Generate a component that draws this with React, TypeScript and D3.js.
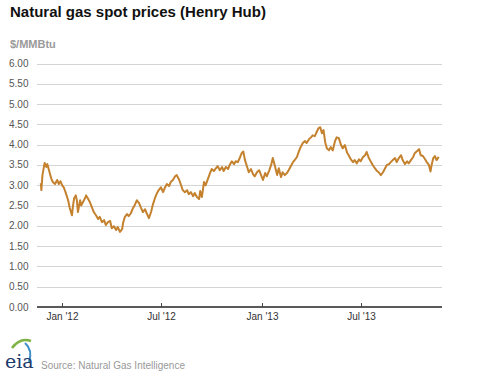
import React from "react";
import * as d3 from "d3";

const title = "Natural gas spot prices (Henry Hub)";
const unitLabel = "$/MMBtu";
const sourceLabel = "Source: Natural Gas Intelligence";
const yTicks = [0, 0.5, 1, 1.5, 2, 2.5, 3, 3.5, 4, 4.5, 5, 5.5, 6];
const xTickDates = ["2012-01-01", "2012-07-01", "2013-01-01", "2013-07-01"];
const xTickLabels = ["Jan '12", "Jul '12", "Jan '13", "Jul '13"];

const dates = [
  "2011-11-23","2011-11-24","2011-11-26","2011-11-30","2011-12-03","2011-12-05","2011-12-08","2011-12-12","2011-12-15","2011-12-19",
  "2011-12-23","2011-12-26","2011-12-29","2012-01-01","2012-01-04","2012-01-08","2012-01-12","2012-01-15","2012-01-19","2012-01-21",
  "2012-01-23","2012-01-26","2012-01-28","2012-01-30","2012-02-03","2012-02-05","2012-02-08","2012-02-12","2012-02-14","2012-02-17",
  "2012-02-21","2012-02-25","2012-02-28","2012-03-03","2012-03-07","2012-03-10","2012-03-14","2012-03-18","2012-03-21","2012-03-25",
  "2012-03-29","2012-04-01","2012-04-05","2012-04-09","2012-04-12","2012-04-16","2012-04-20","2012-04-22","2012-04-25","2012-04-29",
  "2012-05-02","2012-05-06","2012-05-10","2012-05-13","2012-05-17","2012-05-21","2012-05-24","2012-05-28","2012-06-01","2012-06-04",
  "2012-06-08","2012-06-12","2012-06-15","2012-06-19","2012-06-23","2012-06-26","2012-06-30","2012-07-04","2012-07-07","2012-07-11",
  "2012-07-15","2012-07-18","2012-07-22","2012-07-26","2012-07-29","2012-08-02","2012-08-06","2012-08-09","2012-08-13","2012-08-17",
  "2012-08-20","2012-08-24","2012-08-28","2012-08-31","2012-09-04","2012-09-08","2012-09-10","2012-09-13","2012-09-17","2012-09-20",
  "2012-09-24","2012-09-28","2012-10-01","2012-10-05","2012-10-09","2012-10-12","2012-10-16","2012-10-20","2012-10-23","2012-10-27",
  "2012-10-31","2012-11-03","2012-11-07","2012-11-11","2012-11-14","2012-11-18","2012-11-22","2012-11-25","2012-11-28","2012-12-01",
  "2012-12-05","2012-12-08","2012-12-12","2012-12-16","2012-12-19","2012-12-23","2012-12-27","2012-12-30","2013-01-03","2013-01-07",
  "2013-01-10","2013-01-14","2013-01-18","2013-01-21","2013-01-25","2013-01-29","2013-02-01","2013-02-05","2013-02-08","2013-02-12",
  "2013-02-16","2013-02-19","2013-02-23","2013-02-27","2013-03-02","2013-03-06","2013-03-10","2013-03-13","2013-03-17","2013-03-21",
  "2013-03-24","2013-03-28","2013-04-01","2013-04-04","2013-04-08","2013-04-12","2013-04-15","2013-04-18","2013-04-21","2013-04-24",
  "2013-04-27","2013-04-30","2013-05-04","2013-05-07","2013-05-11","2013-05-15","2013-05-18","2013-05-22","2013-05-26","2013-05-29",
  "2013-06-02","2013-06-06","2013-06-09","2013-06-13","2013-06-17","2013-06-20","2013-06-24","2013-06-28","2013-07-01","2013-07-05",
  "2013-07-09","2013-07-12","2013-07-16","2013-07-20","2013-07-23","2013-07-27","2013-07-31","2013-08-03","2013-08-07","2013-08-11",
  "2013-08-14","2013-08-18","2013-08-22","2013-08-25","2013-08-29","2013-09-02","2013-09-05","2013-09-09","2013-09-13","2013-09-16",
  "2013-09-20","2013-09-24","2013-09-27","2013-10-01","2013-10-05","2013-10-08","2013-10-12","2013-10-16","2013-10-19","2013-10-23",
  "2013-10-27","2013-10-30","2013-11-03","2013-11-06","2013-11-08","2013-11-11","2013-11-14","2013-11-17","2013-11-21"
];

const prices = [
  3.05,2.88,3.25,3.55,3.45,3.52,3.37,3.17,3.08,3.03,
  3.13,3.03,3.10,3.00,2.95,2.80,2.63,2.44,2.26,2.50,
  2.68,2.75,2.63,2.34,2.63,2.50,2.58,2.68,2.75,2.68,
  2.58,2.44,2.34,2.26,2.17,2.22,2.09,2.14,2.02,2.09,
  2.12,1.94,1.99,1.90,1.97,1.85,1.92,2.09,2.22,2.29,
  2.24,2.31,2.44,2.51,2.63,2.56,2.46,2.34,2.41,2.31,
  2.19,2.34,2.51,2.68,2.81,2.88,2.95,2.83,2.93,3.03,
  2.98,3.08,3.13,3.22,3.25,3.15,3.00,2.88,2.83,2.88,
  2.78,2.83,2.73,2.81,2.71,2.66,2.86,2.71,3.08,3.00,
  3.15,3.30,3.40,3.35,3.42,3.47,3.37,3.45,3.35,3.45,
  3.40,3.50,3.59,3.52,3.59,3.57,3.69,3.79,3.83,3.62,
  3.45,3.32,3.40,3.27,3.22,3.32,3.37,3.27,3.13,3.30,
  3.22,3.35,3.50,3.67,3.47,3.25,3.42,3.20,3.32,3.25,
  3.30,3.37,3.47,3.57,3.62,3.69,3.84,3.94,4.04,4.09,
  4.04,4.13,4.18,4.23,4.21,4.33,4.41,4.43,4.28,4.36,
  4.06,3.91,3.86,3.94,3.86,4.09,4.18,4.16,3.99,3.91,
  3.99,3.81,3.74,3.64,3.57,3.62,3.54,3.64,3.59,3.69,
  3.74,3.82,3.67,3.57,3.50,3.42,3.35,3.32,3.25,3.32,
  3.40,3.50,3.52,3.57,3.62,3.67,3.57,3.67,3.74,3.62,
  3.52,3.59,3.54,3.62,3.69,3.79,3.84,3.89,3.74,3.72,
  3.64,3.57,3.50,3.34,3.50,3.67,3.72,3.62,3.70
];

const parse = d3.timeParse("%Y-%m-%d");

export default function App() {
  const W = 480, H = 374;
  const left = 37, right = 442, top = 63.5, bottom = 307;
  const x = d3.scaleTime()
    .domain([parse("2011-11-16")!, parse("2013-11-27")!])
    .range([left, right]);
  const y = d3.scaleLinear().domain([0, 6]).range([bottom, top]);
  const pts = dates.map((d, i) => ({ d: parse(d)!, v: prices[i] }));
  const line = d3.line<{ d: Date; v: number }>()
    .x((p) => x(p.d))
    .y((p) => y(p.v))
    .curve(d3.curveLinear);

  const font = "Arial, 'Liberation Sans', Helvetica, sans-serif";

  return (
    <svg
      width={W}
      height={H}
      style={{ position: "absolute", left: 0, top: 0, display: "block", background: "#fff" }}
      fontFamily={font}
    >
      <rect x={0} y={0} width={W} height={H} fill="#fff" />
      <text x={10} y={17} fontSize={15} fontWeight="bold" fill="#111">{title}</text>
      <text x={10} y={47.5} fontSize={11} fontWeight="bold" fill="#9a9a9a">{unitLabel}</text>

      {yTicks.map((t) => (
        <g key={t}>
          {t > 0 && (
            <line x1={left} x2={right} y1={Math.round(y(t)) + 0.5} y2={Math.round(y(t)) + 0.5} stroke="#d4d4d4" strokeWidth={1} />
          )}
          <text x={9} y={y(t)} dy="0.35em" fontSize={10} fill="#555">{t.toFixed(2)}</text>
        </g>
      ))}

      <line x1={left} x2={right} y1={bottom} y2={bottom} stroke="#222" strokeWidth={1.5} />
      {xTickDates.map((d, i) => {
        const xx = Math.round(x(parse(d)!)) + 0.5;
        return (
          <g key={d}>
            <line x1={xx} x2={xx} y1={bottom - 4} y2={bottom} stroke="#444" strokeWidth={1} />
            <text x={xx} y={320} fontSize={10} fill="#333" textAnchor="middle">{xTickLabels[i]}</text>
          </g>
        );
      })}

      <path d={line(pts) || ""} fill="none" stroke="#c4812e" strokeWidth={2} strokeLinejoin="round" />

      <g>
        <path d="M 12 348 Q 20 337 31 341" fill="none" stroke="#7cb342" strokeWidth={2.5} />
        <path d="M 25 343 Q 33 350 29 362" fill="none" stroke="#3a8fc8" strokeWidth={2} />
        <text x={5} y={368} fontSize={19} fontFamily="'DejaVu Serif', 'Liberation Serif', serif" fill="#1e3a6b">eia</text>
      </g>
      <text x={41} y={368.5} fontSize={10} fill="#999">{sourceLabel}</text>
    </svg>
  );
}
